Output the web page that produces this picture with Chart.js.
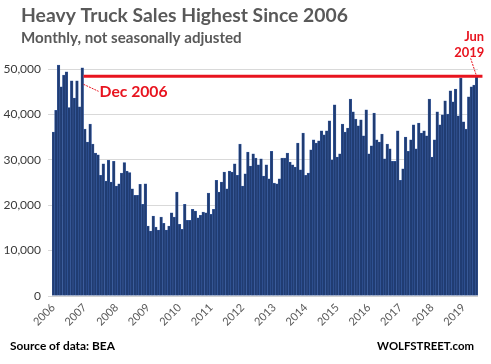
<!DOCTYPE html>
<html><head><meta charset="utf-8">
<script src="https://cdn.jsdelivr.net/npm/chart.js@4/dist/chart.umd.min.js"></script>
<style>html,body{margin:0;padding:0;background:#fff;}#wrap{width:491px;height:364px;position:relative;}</style>
</head><body><div id="wrap"><canvas id="c" width="491" height="364"></canvas></div>
<script>
// ---- data (monthly heavy truck sales, not seasonally adjusted) ----
const yearLabels = ['2006','2007','2008','2009','2010','2011','2012','2013','2014','2015','2016','2017','2018','2019'];
const monthNames = ['Jan','Feb','Mar','Apr','May','Jun','Jul','Aug','Sep','Oct','Nov','Dec'];
const sales2006 = [36100,40900,50900,46100,48700,49400,41500,47400,43600,47400,41700,50300];
const sales2007 = [36800,33900,37900,33500,31500,31100,26600,29100,25300,29900,25100,29700];
const sales2008 = [24200,24700,27100,29400,27500,27200,23600,22200,22200,24600,20200,24700];
const sales2009 = [15400,14300,17600,15200,14500,17400,16000,14500,15400,18300,17400,22900];
const sales2010 = [15800,14700,20200,16700,16700,19100,18700,17200,17800,18500,18300,22700];
const sales2011 = [18000,19100,25500,22900,25100,27300,23600,27500,27300,29100,26600,33500];
const sales2012 = [24200,26900,31700,28600,31300,30400,28900,30200,26400,28900,25800,31900];
const sales2013 = [24900,24700,25800,30400,30400,31500,29500,28900,28400,33700,27800,35900];
const sales2014 = [26600,27100,32200,34400,33700,34200,36400,35500,36400,38600,30000,42100];
const sales2015 = [30600,31300,37900,36100,37000,43400,40600,39000,37500,38800,35300,41000];
const sales2016 = [31300,33100,40300,34400,33900,35700,30200,33500,32400,29700,29700,36400];
const sales2017 = [25500,28000,35000,31900,34400,37700,32400,38100,35900,36400,35300,43400];
const sales2018 = [30600,34400,40600,37700,39900,43000,40100,45200,42800,45600,39700,48000];
const sales2019 = [38400,36800,43900,46100,46500,48400];
const yTickValues = [0,10000,20000,30000,40000,50000];

const salesByYear = [sales2006,sales2007,sales2008,sales2009,sales2010,sales2011,sales2012,
  sales2013,sales2014,sales2015,sales2016,sales2017,sales2018,sales2019];
const categories = [];
const values = [];
salesByYear.forEach((arr, yi) => arr.forEach((v, mi) => {
  categories.push(monthNames[mi] + ' ' + yearLabels[yi]);
  values.push(v);
}));

const refLabelLeft = 'Dec 2006';
const refLabelRight = ['Jun', '2019'];
const refStartCategory = 'Dec 2006';
const refEndCategory = 'Jun 2019';
const refValue = sales2019[5];

const RED = '#e8141f';
const GRAY = '#595959';

function fitFont(ctx, text, weight, family, target, maxSize) {
  ctx.font = weight + ' 100px ' + family;
  const w = ctx.measureText(text).width;
  const s = Math.min(maxSize, 100 * target / w);
  return weight + ' ' + s.toFixed(2) + 'px ' + family;
}

const overlay = {
  id: 'overlay',
  afterDraw(chart) {
    const {ctx, chartArea, scales: {x, y}} = chart;
    ctx.save();
    ctx.textAlign = 'left';
    ctx.textBaseline = 'alphabetic';
    // titles
    ctx.fillStyle = GRAY;
    ctx.font = fitFont(ctx, 'Heavy Truck Sales Highest Since 2006', 'bold', 'Lato', 327, 21);
    ctx.fillText('Heavy Truck Sales Highest Since 2006', 21, 22);
    ctx.font = fitFont(ctx, 'Monthly, not seasonally adjusted', 'bold', 'Lato', 221, 16);
    ctx.fillText('Monthly, not seasonally adjusted', 21, 43);
    // footer
    ctx.fillStyle = '#000';
    ctx.font = fitFont(ctx, 'Source of data: BEA', 'bold', 'Lato', 105, 14);
    ctx.fillText('Source of data: BEA', 10, 350);
    ctx.textAlign = 'right';
    ctx.font = fitFont(ctx, 'WOLFSTREET.com', 'bold', 'Lato', 97, 14);
    ctx.fillText('WOLFSTREET.com', 474, 350);

    // reference line at Jun 2019 level, starting right after Dec 2006 bar
    const catW = (x.getPixelForValue(1) - x.getPixelForValue(0));
    const iStart = categories.indexOf(refStartCategory);
    const iEnd = categories.indexOf(refEndCategory);
    const yRef = y.getPixelForValue(refValue);
    const xStart = x.getPixelForValue(iStart) + catW / 2;
    const xLast = x.getPixelForValue(iEnd);
    ctx.strokeStyle = RED;
    ctx.lineWidth = 3;
    ctx.beginPath();
    ctx.moveTo(xStart, yRef);
    ctx.lineTo(chartArea.right + 4.5, yRef);
    ctx.stroke();

    // Dec 2006 label
    ctx.fillStyle = RED;
    ctx.textAlign = 'left';
    ctx.font = fitFont(ctx, refLabelLeft, 'bold', 'Lato', 68, 17);
    ctx.fillText(refLabelLeft, xStart + 16, yRef + 20.5);
    ctx.lineWidth = 1;
    ctx.setLineDash([2, 1]);
    ctx.beginPath();
    ctx.moveTo(xStart, yRef + 8);
    ctx.lineTo(xStart + 15, yRef + 15);
    ctx.stroke();

    // Jun 2019 label
    ctx.setLineDash([]);
    ctx.textAlign = 'right';
    ctx.font = fitFont(ctx, '2019', 'bold', 'Lato', 30, 17);
    ctx.fillText(refLabelRight[0], chartArea.right + 6.2, yRef - 35.5);
    ctx.fillText(refLabelRight[1], chartArea.right + 6.2, yRef - 19.5);
    ctx.setLineDash([2, 1]);
    ctx.beginPath();
    ctx.moveTo(xLast - 6, yRef - 18);
    ctx.lineTo(xLast, yRef);
    ctx.stroke();
    ctx.restore();
  }
};

new Chart(document.getElementById('c'), {
  type: 'bar',
  data: {
    labels: categories,
    datasets: [{
      data: values,
      backgroundColor: '#203c72',
      borderColor: '#3d63ab',
      borderWidth: 0.5,
      barPercentage: 1,
      categoryPercentage: 1
    }]
  },
  options: {
    responsive: false,
    animation: false,
    devicePixelRatio: 1,
    layout: { padding: { top: 60, right: 9.5, left: 0, bottom: 0 } },
    plugins: { legend: { display: false }, tooltip: { enabled: false }, title: { display: false } },
    scales: {
      x: {
        offset: true,
        grid: { display: false, drawTicks: false },
        border: { display: true, color: '#d0d0d0' },
        ticks: {
          autoSkip: false, maxRotation: 45, minRotation: 45, padding: 5,
          color: GRAY, font: { family: 'Lato', size: 11 },
          callback: (v, i) => (i % 12 === 0 ? yearLabels[i / 12] : '')
        },
        afterFit: s => { s.height = 68; }
      },
      y: {
        min: 0, max: 52000,
        afterBuildTicks: s => { s.ticks = yTickValues.map(v => ({ value: v })); },
        ticks: {
          padding: 7, color: '#3a3a3a', font: { family: 'Lato', size: 12 },
          callback: v => v.toLocaleString('en-US')
        },
        grid: { color: '#d9d9d9', tickLength: 4, drawTicks: true },
        border: { display: false },
        afterFit: s => { s.width = 52; }
      }
    }
  },
  plugins: [overlay]
});
</script>
</body></html>
